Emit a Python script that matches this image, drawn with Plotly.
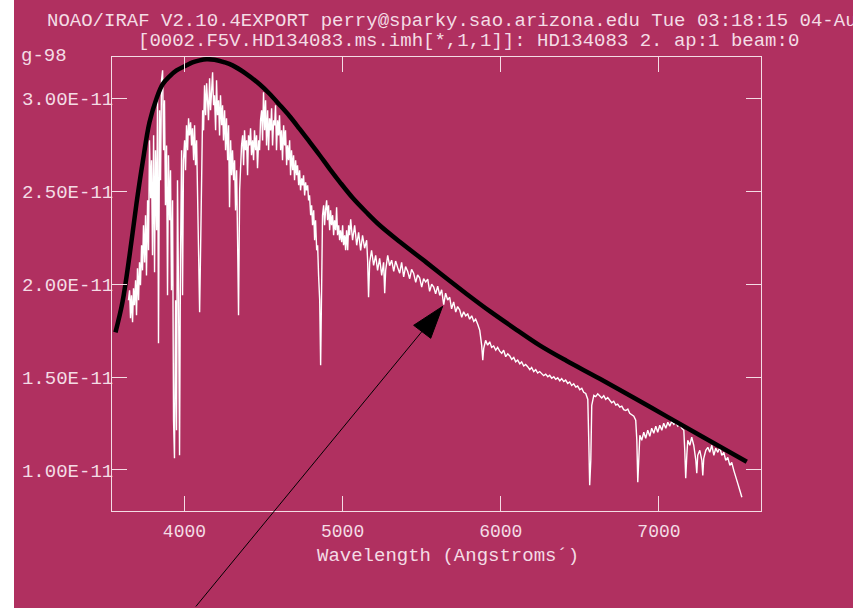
import plotly.graph_objects as go

# ---------------- data (flux in units of 1E-11) ----------------
WAVELENGTH = [
    3646, 3653, 3659, 3665, 3672, 3678, 3684, 3691, 3697, 3703,
    3710, 3716, 3722, 3729, 3735, 3741, 3748, 3754, 3760, 3767,
    3773, 3779, 3786, 3792, 3798, 3805, 3811, 3817, 3824, 3830,
    3836, 3843, 3849, 3855, 3862, 3868, 3874, 3880, 3887, 3893,
    3899, 3906, 3912, 3918, 3925, 3931, 3937, 3944, 3950, 3956,
    3963, 3969, 3975, 3982, 3988, 3994, 4001, 4007, 4013, 4020,
    4026, 4032, 4039, 4045, 4051, 4058, 4064, 4070, 4077, 4083,
    4089, 4096, 4102, 4108, 4115, 4121, 4127, 4134, 4140, 4146,
    4152, 4159, 4165, 4172, 4178, 4184, 4190, 4197, 4203, 4209,
    4216, 4222, 4228, 4235, 4241, 4247, 4254, 4260, 4266, 4273,
    4279, 4285, 4292, 4298, 4304, 4311, 4317, 4323, 4330, 4336,
    4342, 4349,
    4355, 4361, 4368, 4374, 4380, 4386, 4393, 4399, 4405, 4412,
    4418, 4424, 4431, 4437, 4443, 4450, 4456, 4462, 4469, 4475,
    4481, 4488, 4494, 4500, 4507, 4513, 4519, 4526, 4532, 4538,
    4545, 4551, 4557, 4564, 4570, 4576, 4582, 4589, 4595, 4601,
    4608, 4614, 4620, 4627, 4633, 4639, 4646, 4652, 4658, 4665,
    4671, 4677, 4684, 4690, 4696, 4703, 4709, 4715, 4722, 4728,
    4734, 4741, 4747, 4753, 4760, 4766, 4772, 4779, 4785, 4791,
    4798, 4804, 4810, 4817, 4823, 4829, 4836, 4842, 4848, 4855,
    4861, 4867, 4873, 4880, 4886, 4892, 4899, 4905, 4911, 4918,
    4924, 4930, 4937, 4943, 4949, 4956, 4962, 4968, 4975, 4981,
    4987, 4994, 5000, 5006, 5013, 5019, 5025, 5032, 5038, 5044,
    5051, 5057,
    5063, 5076, 5089, 5101, 5114, 5126, 5139, 5152, 5158, 5164,
    5171, 5183, 5196, 5209, 5221, 5234, 5247, 5259, 5266, 5272,
    5285, 5297, 5310, 5323, 5335, 5348, 5361, 5373, 5386, 5398,
    5411, 5424, 5436, 5449, 5462, 5474, 5487, 5500, 5512, 5525,
    5538, 5550, 5563, 5576, 5588, 5601, 5614, 5626, 5639, 5651,
    5664, 5677, 5689, 5702, 5715, 5727, 5740, 5753, 5765, 5778,
    5791, 5803, 5816, 5829, 5841, 5854, 5867, 5879, 5886, 5892,
    5904, 5917, 5930, 5942, 5955, 5968, 5980, 5993, 6006, 6018,
    6031, 6044, 6056, 6069, 6082, 6094, 6107, 6120, 6132, 6145,
    6157, 6170, 6183, 6195, 6208, 6221, 6233, 6246, 6259, 6271,
    6284, 6297, 6309, 6322, 6335, 6347, 6360, 6373, 6385, 6398,
    6410, 6423, 6436, 6448, 6461, 6474, 6486, 6499, 6512, 6524,
    6537, 6550, 6556, 6562, 6569,
    6575, 6588, 6600, 6613, 6626, 6638, 6651, 6663, 6676, 6689,
    6701, 6714, 6727, 6739, 6752, 6765, 6777, 6790, 6803, 6815,
    6828, 6841, 6853, 6860, 6866, 6872,
    6879, 6891, 6904, 6916, 6929, 6942, 6954, 6967, 6980, 6992,
    7005, 7018, 7030, 7043, 7056, 7068, 7081, 7094, 7106, 7119,
    7132, 7144, 7157, 7163, 7169, 7176, 7182, 7195, 7207, 7220,
    7233, 7239, 7245, 7258, 7271, 7277, 7283, 7296, 7309, 7321,
    7334, 7347, 7359, 7372, 7385, 7397, 7410, 7422, 7435, 7448,
    7460, 7473, 7486, 7498, 7511, 7524,
]

FLUX = [
    1.914, 1.968, 1.817, 1.941, 1.796, 1.978, 1.887, 2.022, 1.833, 2.086,
    1.914, 2.118, 1.995, 2.210, 2.075, 2.318, 2.118, 2.372, 2.048, 2.452,
    2.183, 2.775, 2.463, 2.668, 2.156, 2.802, 2.065, 2.722, 2.291, 3.018,
    1.682, 2.937, 2.560, 3.099, 3.152, 2.722, 2.991, 2.425, 2.748, 1.941,
    2.695, 2.345, 2.614, 1.968, 2.452, 1.268, 1.063, 1.914, 1.214, 2.560,
    1.914, 1.079, 2.129, 2.722, 1.941, 2.668, 2.775, 2.614, 2.856, 2.722,
    2.894, 2.802, 2.872, 2.748, 2.840, 2.668, 2.856, 2.641, 2.775, 2.506,
    2.291, 1.849, 2.183, 2.722, 2.937, 2.829, 3.072, 2.910, 3.082, 2.991,
    2.883, 3.109, 2.937, 3.045, 3.142, 2.964, 3.018, 2.829, 3.099, 2.910,
    2.991, 2.802, 3.018, 2.856, 2.964, 2.775, 2.937, 2.722, 2.894, 2.668,
    2.856, 2.415, 2.775, 2.587, 2.722, 2.560, 2.668, 2.398, 2.614, 2.237,
    1.833, 2.506,
    2.641, 2.748, 2.802, 2.641, 2.829, 2.722, 2.775, 2.587, 2.802, 2.748,
    2.840, 2.695, 2.775, 2.668, 2.829, 2.722, 2.802, 2.625, 2.775, 2.722,
    2.883, 2.937, 2.775, 3.034, 2.829, 2.991, 2.748, 2.937, 2.722, 2.894,
    2.829, 2.948, 2.748, 2.883, 2.856, 2.964, 2.722, 2.883, 2.802, 2.910,
    2.722, 2.829, 2.668, 2.856, 2.748, 2.829, 2.641, 2.748, 2.668, 2.775,
    2.587, 2.722, 2.614, 2.695, 2.560, 2.668, 2.587, 2.641, 2.533, 2.614,
    2.506, 2.571, 2.533, 2.587, 2.479, 2.549, 2.506, 2.533, 2.452, 2.479,
    2.372, 2.425, 2.318, 2.398, 2.237, 2.345, 2.183, 2.210, 2.048, 1.914,
    1.564, 2.075, 2.372, 2.425, 2.318, 2.398, 2.452, 2.345, 2.425, 2.291,
    2.398, 2.318, 2.372, 2.264, 2.345, 2.291, 2.415, 2.264, 2.318, 2.237,
    2.291, 2.226, 2.318, 2.210, 2.264, 2.183, 2.291, 2.183, 2.318, 2.264,
    2.350, 2.291,
    2.237, 2.318, 2.210, 2.280, 2.183, 2.264, 2.194, 2.237, 2.129, 1.930,
    2.118, 2.183, 2.102, 2.156, 2.075, 2.140, 2.048, 2.118, 1.952, 2.075,
    2.156, 2.100, 2.130, 2.070, 2.125, 2.090, 2.060, 2.118, 2.040, 2.095,
    2.070, 2.030, 2.080, 2.060, 2.010, 2.050, 2.035, 1.985, 2.030, 2.012,
    2.028, 1.962, 2.000, 1.985, 1.948, 1.990, 1.940, 1.970, 1.890, 1.952,
    1.915, 1.930, 1.868, 1.905, 1.850, 1.880, 1.862, 1.822, 1.852, 1.830,
    1.840, 1.812, 1.830, 1.800, 1.812, 1.785, 1.752, 1.672, 1.591, 1.655,
    1.698, 1.672, 1.690, 1.660, 1.668, 1.645, 1.660, 1.640, 1.628, 1.645,
    1.610, 1.625, 1.615, 1.596, 1.606, 1.582, 1.592, 1.572, 1.582, 1.560,
    1.568, 1.556, 1.540, 1.552, 1.530, 1.540, 1.522, 1.530, 1.518, 1.508,
    1.516, 1.502, 1.510, 1.494, 1.502, 1.488, 1.496, 1.480, 1.492, 1.476,
    1.484, 1.466, 1.474, 1.455, 1.464, 1.446, 1.452, 1.432, 1.440, 1.418,
    1.412, 1.380, 1.160, 0.918, 1.052,
    1.348, 1.402, 1.395, 1.410, 1.398, 1.388, 1.400, 1.380, 1.390, 1.372,
    1.362, 1.370, 1.350, 1.355, 1.338, 1.344, 1.325, 1.320, 1.328, 1.305,
    1.298, 1.290, 1.268, 1.160, 0.934, 1.079,
    1.187, 1.160, 1.203, 1.171, 1.214, 1.181, 1.225, 1.198, 1.236, 1.203,
    1.241, 1.214, 1.252, 1.225, 1.257, 1.236, 1.262, 1.246, 1.257, 1.236,
    1.246, 1.225, 1.214, 1.106, 0.955, 1.079, 1.160, 1.133, 1.176, 1.133,
    1.052, 0.982, 1.079, 1.106, 1.052, 0.971, 1.063, 1.106, 1.122, 1.095,
    1.133, 1.079, 1.117, 1.095, 1.122, 1.079, 1.095, 1.052, 1.068, 1.025,
    1.041, 0.998, 0.955, 0.928, 0.891, 0.853,
]
assert len(WAVELENGTH) == len(FLUX), (len(WAVELENGTH), len(FLUX))

CURVE_WL = [3564, 3608, 3653, 3697, 3735, 3779, 3824, 3862, 3906, 3950,
            4001, 4051, 4096, 4140, 4190, 4254, 4304, 4386, 4475, 4538,
            4601, 4665, 4728, 4791, 4855, 4918, 4981, 5063, 5150, 5234,
            5361, 5529, 5656, 5782, 5930, 6099, 6246, 6415, 6626, 6942,
            7258, 7555]
CURVE_FLUX = [1.741, 1.903, 2.156, 2.436, 2.652, 2.872, 3.002, 3.077, 3.120, 3.152,
              3.174, 3.195, 3.206, 3.212, 3.209, 3.195, 3.179, 3.136, 3.077, 3.026,
              2.967, 2.905, 2.837, 2.767, 2.695, 2.622, 2.552, 2.466, 2.388, 2.318,
              2.229, 2.118, 2.032, 1.949, 1.855, 1.755, 1.671, 1.588, 1.491, 1.340,
              1.187, 1.044]
assert len(CURVE_WL) == len(CURVE_FLUX)

X_TICKS = [4000, 5000, 6000, 7000]
Y_TICKS = [1.0, 1.5, 2.0, 2.5, 3.0]
Y_TICK_TEXT = ["1.00E-11", "1.50E-11", "2.00E-11", "2.50E-11", "3.00E-11"]
X_RANGE = [3542, 7645]
Y_RANGE = [0.779, 3.224]

TITLE_1 = "NOAO/IRAF V2.10.4EXPORT perry@sparky.sao.arizona.edu Tue 03:18:15 04-Au"
TITLE_2 = "[0002.F5V.HD134083.ms.imh[*,1,1]]: HD134083 2. ap:1 beam:0"
TITLE_3 = "g-98"
X_TITLE = "Wavelength (Angstroms\u00b4)"

ARROW_TIP = (5632, 1.881)
ARROW_BASE_A = (5449, 1.779)
ARROW_BASE_B = (5557, 1.709)

# ---------------- style ----------------
BG = "#B03060"
FG = "#f4dce5"
FONT = "Liberation Mono, DejaVu Sans Mono, monospace"

fig = go.Figure()
fig.add_trace(go.Scatter(x=WAVELENGTH, y=FLUX, mode="lines",
                         line=dict(color="white", width=1.4), hoverinfo="skip"))
fig.add_trace(go.Scatter(x=CURVE_WL, y=CURVE_FLUX, mode="lines",
                         line=dict(color="black", width=4.5, shape="spline"),
                         hoverinfo="skip"))

axis_common = dict(showline=True, linecolor=FG, linewidth=1, mirror="ticks",
                   ticks="inside", ticklen=15, tickwidth=1, tickcolor=FG,
                   showgrid=False, zeroline=False)

fig.update_xaxes(range=X_RANGE, tickvals=X_TICKS,
                 ticktext=[str(v) for v in X_TICKS],
                 tickfont=dict(family=FONT, size=18, color=FG),
                 ticklabelstandoff=3, **axis_common)
fig.update_yaxes(range=Y_RANGE, tickvals=Y_TICKS, ticktext=Y_TICK_TEXT,
                 tickfont=dict(family=FONT, size=19, color=FG),
                 ticklabelstandoff=-6, **axis_common)

L, R, T, B = 112, 92, 57, 97
W, H = 853, 608
PW, PH = W - L - R, H - T - B

def px_x(px):
    return (px - L) / PW

def px_y(py):
    return (H - B - py) / PH

annotations = [
    dict(text=TITLE_1, x=px_x(45), y=px_y(21), xanchor="left", yanchor="middle"),
    dict(text=TITLE_2, x=px_x(136), y=px_y(41), xanchor="left", yanchor="middle"),
    dict(text=TITLE_3, x=px_x(19), y=px_y(56), xanchor="left", yanchor="middle"),
    dict(text=X_TITLE, x=px_x(448), y=px_y(556), xanchor="center", yanchor="middle"),
]
for a in annotations:
    a.update(xref="paper", yref="paper", showarrow=False,
             font=dict(family=FONT, size=19, color=FG))

annotations.append(dict(x=ARROW_TIP[0], y=ARROW_TIP[1], xref="x", yref="y",
                        text="", showarrow=True, arrowhead=0, arrowwidth=1,
                        arrowcolor="black", ax=-248, ay=308,
                        axref="pixel", ayref="pixel"))

shapes = [
    dict(type="rect", xref="paper", yref="paper", x0=-1, x1=px_x(14), y0=-1, y1=2,
         fillcolor="white", line=dict(width=0), layer="above"),
    dict(type="path", xref="x", yref="y",
         path=(f"M {ARROW_TIP[0]},{ARROW_TIP[1]} L {ARROW_BASE_A[0]},{ARROW_BASE_A[1]} "
               f"L {ARROW_BASE_B[0]},{ARROW_BASE_B[1]} Z"),
         fillcolor="black", line=dict(color="black", width=1), layer="above"),
]

fig.update_layout(width=W, height=H, margin=dict(l=L, r=R, t=T, b=B, pad=0),
                  paper_bgcolor=BG, plot_bgcolor=BG, showlegend=False,
                  font=dict(family=FONT, size=18, color=FG),
                  annotations=annotations, shapes=shapes)

fig.write_html("out.html", config={"displayModeBar": False},
               post_script="document.body.style.margin='0px';"
                           "document.body.style.overflow='hidden';")
